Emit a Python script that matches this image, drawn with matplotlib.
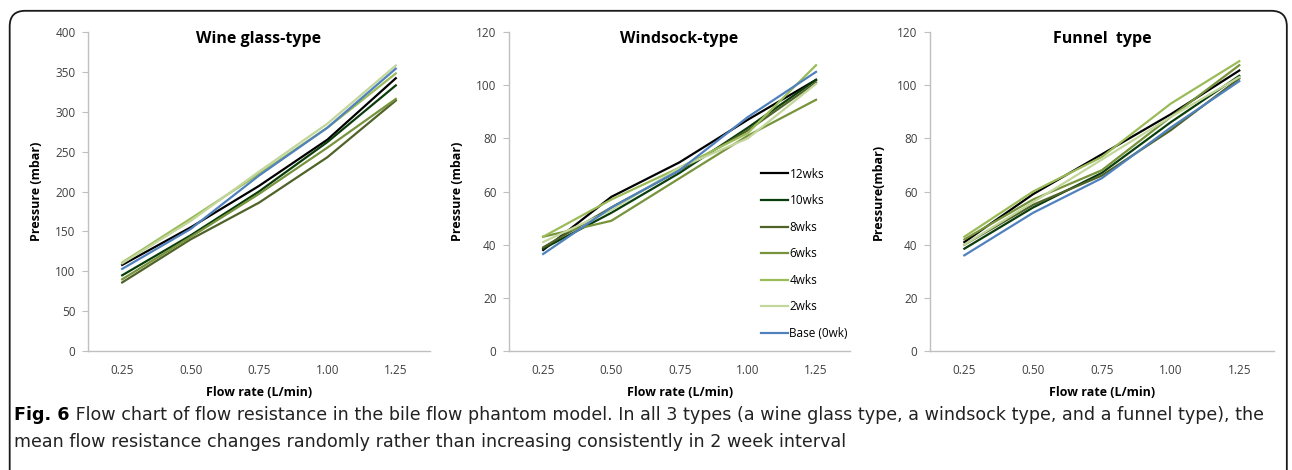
import matplotlib.pyplot as plt
import numpy as np
from matplotlib.patches import FancyBboxPatch

# ---------------------- data ----------------------
flow_rates = ['0.25', '0.50', '0.75', '1.00', '1.25']
series_names = ['12wks', '10wks', '8wks', '6wks', '4wks', '2wks', 'Base (0wk)']
colors = ['#000000', '#0b3d0b', '#4f6228', '#77933c', '#9bbb59', '#c3d69b', '#4f81bd']

wine_12 = [108, 155, 207, 265, 342]
wine_10 = [95, 145, 200, 262, 333]
wine_8 = [86, 140, 186, 243, 314]
wine_6 = [90, 143, 197, 255, 316]
wine_4 = [111, 166, 222, 280, 348]
wine_2 = [110, 163, 225, 285, 358]
wine_base = [103, 153, 220, 280, 354]

sock_12 = [38, 58, 71, 87, 102]
sock_10 = [38.5, 52, 67, 84, 102]
sock_8 = [39, 54, 68, 83, 101]
sock_6 = [43, 49, 65, 81, 94.5]
sock_4 = [43, 57, 69, 82, 107.5]
sock_2 = [41, 53, 69, 80, 100.5]
sock_base = [36.5, 54, 68, 88, 105]

fun_12 = [41, 59, 74, 89, 105.5]
fun_10 = [38.5, 54, 67, 86, 103.5]
fun_8 = [40, 55, 66, 83, 102.5]
fun_6 = [42, 57, 68, 88, 107.5]
fun_4 = [43, 60, 73, 93, 109]
fun_2 = [40, 56, 72, 88, 103]
fun_base = [36, 52, 65, 84, 101.5]

panels = [
    ('Wine glass-type', 'Pressure (mbar)', 400, 50,
     [wine_12, wine_10, wine_8, wine_6, wine_4, wine_2, wine_base]),
    ('Windsock-type', 'Pressure (mbar)', 120, 20,
     [sock_12, sock_10, sock_8, sock_6, sock_4, sock_2, sock_base]),
    ('Funnel  type', 'Pressure(mbar)', 120, 20,
     [fun_12, fun_10, fun_8, fun_6, fun_4, fun_2, fun_base]),
]

caption_bold = 'Fig. 6'
caption_1 = (' Flow chart of flow resistance in the bile flow phantom model. In all 3 types '
             '(a wine glass type, a windsock type, and a funnel type), the')
caption_2 = 'mean flow resistance changes randomly rather than increasing consistently in 2 week interval'

# ---------------------- plot ----------------------
plt.rcParams['font.family'] = ['Open Sans', 'DejaVu Sans']

fig = plt.figure(figsize=(12.92, 4.70), dpi=100)

ax_lefts = [0.0681, 0.394, 0.7198]
ax_widths = [0.2647, 0.264, 0.266]
x = np.arange(len(flow_rates))

for k, (title, ylabel, ymax, ystep, data) in enumerate(panels):
    ax = fig.add_axes([ax_lefts[k], 0.253, ax_widths[k], 0.679])
    for vals, name, c in zip(data, series_names, colors):
        ax.plot(x, vals, color=c, linewidth=1.6, label=name)
    ax.set_xlim(-0.5, 4.5)
    ax.set_ylim(0, ymax)
    ax.set_yticks(np.arange(0, ymax + 1, ystep))
    ax.set_xticks(x)
    ax.set_xticklabels(flow_rates)
    for s in ['top', 'right']:
        ax.spines[s].set_visible(False)
    for s in ['left', 'bottom']:
        ax.spines[s].set_color('#bfbfbf')
        ax.spines[s].set_linewidth(1.0)
    ax.tick_params(axis='y', length=4, color='#bfbfbf', labelsize=8.5,
                   labelcolor='#404040', pad=5)
    ax.tick_params(axis='x', length=0, labelsize=8.5, labelcolor='#404040', pad=9)
    ax.set_title(title, fontsize=11.5, fontweight='bold', y=0.94)
    ax.set_xlabel('Flow rate (L/min)', fontsize=9, fontweight='bold', labelpad=7)
    ax.set_ylabel(ylabel, fontsize=9, fontweight='bold', labelpad=9)
    if k == 1:
        ax.legend(loc='upper left', bbox_to_anchor=(0.725, 0.59), frameon=False,
                  fontsize=8.5, labelspacing=1.15, handlelength=2.3,
                  handletextpad=0.1, borderaxespad=0)

# rounded frame around the figure panel (bottom edge cut off)
frame = FancyBboxPatch((0.0075, -0.05), 0.9885, 1.027,
                       boxstyle='round,pad=0,rounding_size=0.012',
                       transform=fig.transFigure, fill=False,
                       edgecolor='#1a1a1a', linewidth=1.3,
                       mutation_aspect=1292 / 470)
fig.patches.append(frame)

# caption
renderer = fig.canvas.get_renderer()
cap_family = ['DejaVu Sans']
t = fig.text(14 / 1292, 1 - 415 / 470, caption_bold, fontsize=12.6, fontweight='bold',
             family=cap_family, va='center', ha='left')
bb = t.get_window_extent(renderer)
fig.text(bb.x1 / 1292, 1 - 415 / 470, caption_1, fontsize=12.6, family=cap_family,
         va='center', ha='left', color='#222222')
fig.text(14 / 1292, 1 - 442 / 470, caption_2, fontsize=12.6, family=cap_family,
         va='center', ha='left', color='#222222')

fig.savefig('out.png', dpi=100)
plt.close(fig)
